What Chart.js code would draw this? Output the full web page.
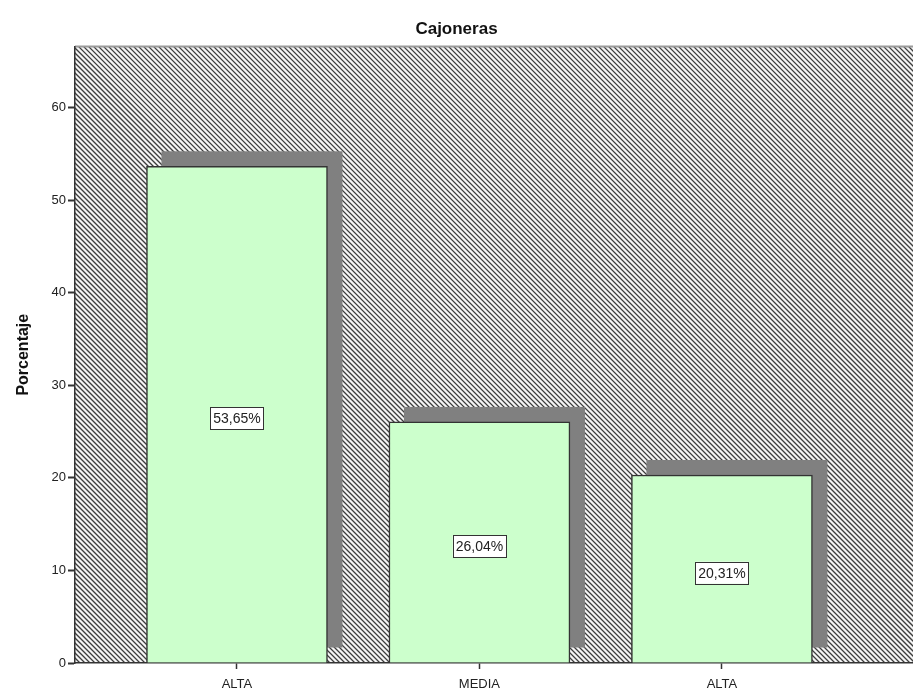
<!DOCTYPE html>
<html>
<head>
<meta charset="utf-8">
<script src="https://cdn.jsdelivr.net/npm/chart.js@4.4.1/dist/chart.umd.min.js"></script>
<style>
  html, body { margin: 0; padding: 0; background: #fff; }
  #wrap { width: 913px; height: 693px; }
</style>
</head>
<body>
<div id="wrap"><canvas id="cajonerasChart" width="913" height="693"></canvas></div>
<script>
// Datos del gráfico
const categorias = ['ALTA', 'MEDIA', 'ALTA'];
const porcentajes = [53.65, 26.04, 20.31];
const posiciones = [1, 2, 3];
const ticksY = [0, 10, 20, 30, 40, 50, 60];

const fuente = "'Liberation Sans', Arial, sans-serif";

// Fondo rayado del área del gráfico
const fondoRayado = {
    id: 'fondoRayado',
    beforeDraw(chart) {
        const { ctx, chartArea: a } = chart;
        ctx.save();
        ctx.beginPath();
        ctx.rect(a.left, a.top, a.right - a.left, a.bottom - a.top);
        ctx.clip();
        ctx.fillStyle = '#f4f4f4';
        ctx.fillRect(a.left, a.top, a.right - a.left, a.bottom - a.top);
        ctx.strokeStyle = '#3c3c3c';
        ctx.lineWidth = 1.3;
        const h = a.bottom - a.top;
        ctx.beginPath();
        for (let o = -h; o < a.right - a.left + h; o += 5) {
            ctx.moveTo(a.left + o, a.top);
            ctx.lineTo(a.left + o + h, a.bottom);
        }
        ctx.stroke();
        ctx.restore();
        // borde superior
        ctx.save();
        ctx.strokeStyle = '#9a9a9a';
        ctx.lineWidth = 2;
        ctx.beginPath();
        ctx.moveTo(a.left, a.top);
        ctx.lineTo(a.right, a.top);
        ctx.stroke();
        ctx.restore();
    }
};

// Sombra gris desplazada detrás de cada barra
const sombraBarras = {
    id: 'sombraBarras',
    beforeDatasetsDraw(chart) {
        const { ctx } = chart;
        const meta = chart.getDatasetMeta(0);
        ctx.save();
        ctx.fillStyle = '#808080';
        meta.data.forEach(bar => {
            const w = bar.width;
            ctx.fillRect(bar.x - w / 2 + 15, bar.y - 15, w, bar.base - bar.y);
        });
        ctx.restore();
    }
};

// Etiquetas con el porcentaje en el centro de cada barra
const etiquetasValor = {
    id: 'etiquetasValor',
    afterDatasetsDraw(chart) {
        const { ctx } = chart;
        const meta = chart.getDatasetMeta(0);
        ctx.save();
        ctx.font = '14px ' + fuente;
        ctx.textAlign = 'center';
        ctx.textBaseline = 'middle';
        meta.data.forEach((bar, i) => {
            const texto = porcentajes[i].toFixed(2).replace('.', ',') + '%';
            const cy = (bar.y + bar.base) / 2 + 4;
            const tw = ctx.measureText(texto).width + 6;
            const th = 22;
            ctx.fillStyle = '#ffffff';
            ctx.fillRect(bar.x - tw / 2, cy - th / 2, tw, th);
            ctx.strokeStyle = '#333333';
            ctx.lineWidth = 1;
            ctx.strokeRect(Math.round(bar.x - tw / 2) + 0.5, Math.round(cy - th / 2) + 0.5, Math.round(tw), th);
            ctx.fillStyle = '#222222';
            ctx.fillText(texto, bar.x, cy + 1);
        });
        ctx.restore();
    }
};

const ctx = document.getElementById('cajonerasChart').getContext('2d');
new Chart(ctx, {
    type: 'bar',
    data: {
        datasets: [{
            data: posiciones.map((x, i) => ({ x: x, y: porcentajes[i] })),
            backgroundColor: '#ccffcc',
            borderColor: '#333333',
            borderWidth: 1.5,
            barThickness: 181
        }]
    },
    options: {
        responsive: false,
        animation: false,
        layout: { padding: 0 },
        plugins: {
            legend: { display: false },
            tooltip: { enabled: false },
            title: {
                display: true,
                text: 'Cajoneras',
                color: '#111',
                font: { family: fuente, size: 17, weight: 'bold' },
                padding: { top: 19, bottom: 7 }
            }
        },
        scales: {
            x: {
                type: 'linear',
                offset: false,
                min: 0.332,
                max: 3.788,
                afterBuildTicks(scale) {
                    scale.ticks = posiciones.map(v => ({ value: v }));
                },
                afterFit(scale) { scale.height = 30; },
                ticks: {
                    callback: (v) => categorias[v - 1],
                    color: '#222',
                    font: { family: fuente, size: 13 },
                    padding: 8,
                    maxRotation: 0,
                    autoSkip: false
                },
                grid: {
                    offset: false,
                    drawOnChartArea: false,
                    tickLength: 6,
                    tickColor: '#333',
                    tickWidth: 1.5
                },
                border: { color: '#333', width: 1.5 }
            },
            y: {
                min: 0,
                max: 66.6,
                afterBuildTicks(scale) {
                    scale.ticks = ticksY.map(v => ({ value: v }));
                },
                afterFit(scale) { scale.width = 75; },
                title: {
                    display: true,
                    text: 'Porcentaje',
                    color: '#111',
                    font: { family: fuente, size: 16, weight: 'bold' },
                    padding: { top: 14, bottom: 0 }
                },
                ticks: {
                    color: '#222',
                    font: { family: fuente, size: 13 },
                    padding: 2
                },
                grid: {
                    drawOnChartArea: false,
                    tickLength: 7,
                    tickColor: '#333',
                    tickWidth: 2
                },
                border: { color: '#333', width: 1.5 }
            }
        }
    },
    plugins: [fondoRayado, sombraBarras, etiquetasValor]
});
</script>
</body>
</html>
